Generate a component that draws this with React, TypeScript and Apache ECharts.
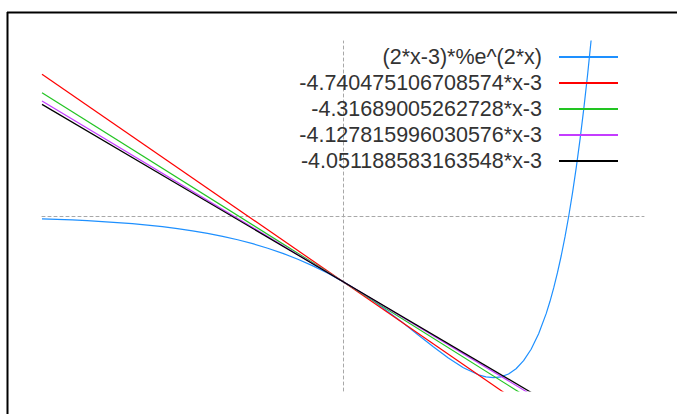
import React, { useEffect, useRef } from "react";
import * as echarts from "echarts";

// Curve (2*x-3)*%e^(2*x), values
const curveX = [
  -2, -1.9, -1.8, -1.7, -1.6, -1.5, -1.4, -1.3, -1.2, -1.1, -1.0, -0.9, -0.8, -0.7, -0.6,
  -0.5, -0.4, -0.3, -0.2, -0.1, 0, 0.1, 0.2, 0.3, 0.4, 0.5, 0.6, 0.7, 0.8, 0.9, 0.95, 1.0,
  1.05, 1.1, 1.15, 1.2, 1.25, 1.3, 1.35, 1.375, 1.4, 1.425, 1.45, 1.475, 1.5, 1.525, 1.55,
  1.575, 1.6, 1.625, 1.65, 1.7,
];
const curveY = [
  -0.128, -0.152, -0.18, -0.214, -0.253, -0.299, -0.353, -0.416, -0.49, -0.576, -0.677,
  -0.793, -0.929, -1.085, -1.265, -1.472, -1.707, -1.976, -2.279, -2.62, -3, -3.42, -3.879,
  -4.373, -4.896, -5.437, -5.976, -6.488, -6.934, -7.26, -7.355, -7.389, -7.35, -7.22,
  -6.982, -6.614, -6.091, -5.386, -4.464, -3.911, -3.289, -2.593, -1.817, -0.955, 0, 1.056,
  2.22, 3.5, 4.907, 6.448, 8.134, 11.986,
];

// Straight lines y = slope*x - 3
const lineNames = [
  "-4.740475106708574*x-3",
  "-4.31689005262728*x-3",
  "-4.127815996030576*x-3",
  "-4.051188583163548*x-3",
];
const lineSlopes = [-4.740475106708574, -4.31689005262728, -4.127815996030576, -4.051188583163548];
const lineIntercept = -3;
const lineXEnds = [-2, 2];

const curveName = "(2*x-3)*%e^(2*x)";
const colors = ["#1e90ff", "#ff0000", "#22c422", "#c43cff", "#000000"];

export default function App() {
  const ref = useRef<HTMLDivElement>(null);
  useEffect(() => {
    if (!ref.current) return;
    const chart = echarts.init(ref.current, undefined, { renderer: "svg" });
    const series: any[] = [
      {
        name: curveName,
        type: "line",
        data: curveX.map((x, i) => [x, curveY[i]]),
        showSymbol: false,
        symbol: "none",
        clip: true,
        lineStyle: { width: 1.2, color: colors[0] },
        itemStyle: { color: colors[0] },
      },
      ...lineNames.map((name, k) => ({
        name,
        type: "line",
        data: lineXEnds.map((x) => [x, lineSlopes[k] * x + lineIntercept]),
        showSymbol: false,
        symbol: "none",
        clip: true,
        lineStyle: { width: 1.2, color: colors[k + 1] },
        itemStyle: { color: colors[k + 1] },
      })),
    ];
    chart.setOption({
      animation: false,
      backgroundColor: "#ffffff",
      grid: { left: 42, right: 33, top: 41, bottom: 23, containLabel: false },
      xAxis: {
        type: "value",
        min: -2,
        max: 2,
        axisLine: { show: true, onZero: true, lineStyle: { color: "#a8a8a8", width: 1, type: [3, 3] } },
        axisTick: { show: false },
        axisLabel: { show: false },
        splitLine: { show: false },
      },
      yAxis: {
        type: "value",
        min: -8,
        max: 8,
        axisLine: { show: true, onZero: true, lineStyle: { color: "#a8a8a8", width: 1, type: [3, 3] } },
        axisTick: { show: false },
        axisLabel: { show: false },
        splitLine: { show: false },
      },
      legend: {
        orient: "vertical",
        align: "right",
        right: 59,
        top: 46,
        padding: 0,
        icon: "rect",
        itemWidth: 59,
        itemHeight: 2,
        itemGap: 4,
        textStyle: {
          fontFamily: "Liberation Sans, Arial, sans-serif",
          fontSize: 21.5,
          lineHeight: 22,
          color: "#333333",
          padding: [0, 12, 0, 0],
        },
        selectedMode: false,
        data: [curveName, ...lineNames],
      },
      graphic: [
        { type: "line", shape: { x1: 7, y1: 12.5, x2: 677, y2: 12.5 }, style: { stroke: "#000", lineWidth: 2 } },
        { type: "line", shape: { x1: 7.5, y1: 12, x2: 7.5, y2: 414 }, style: { stroke: "#000", lineWidth: 2 } },
      ],
      series,
    });
    return () => chart.dispose();
  }, []);
  return (
    <div
      ref={ref}
      style={{ position: "fixed", left: 0, top: 0, width: 677, height: 414 }}
    />
  );
}
